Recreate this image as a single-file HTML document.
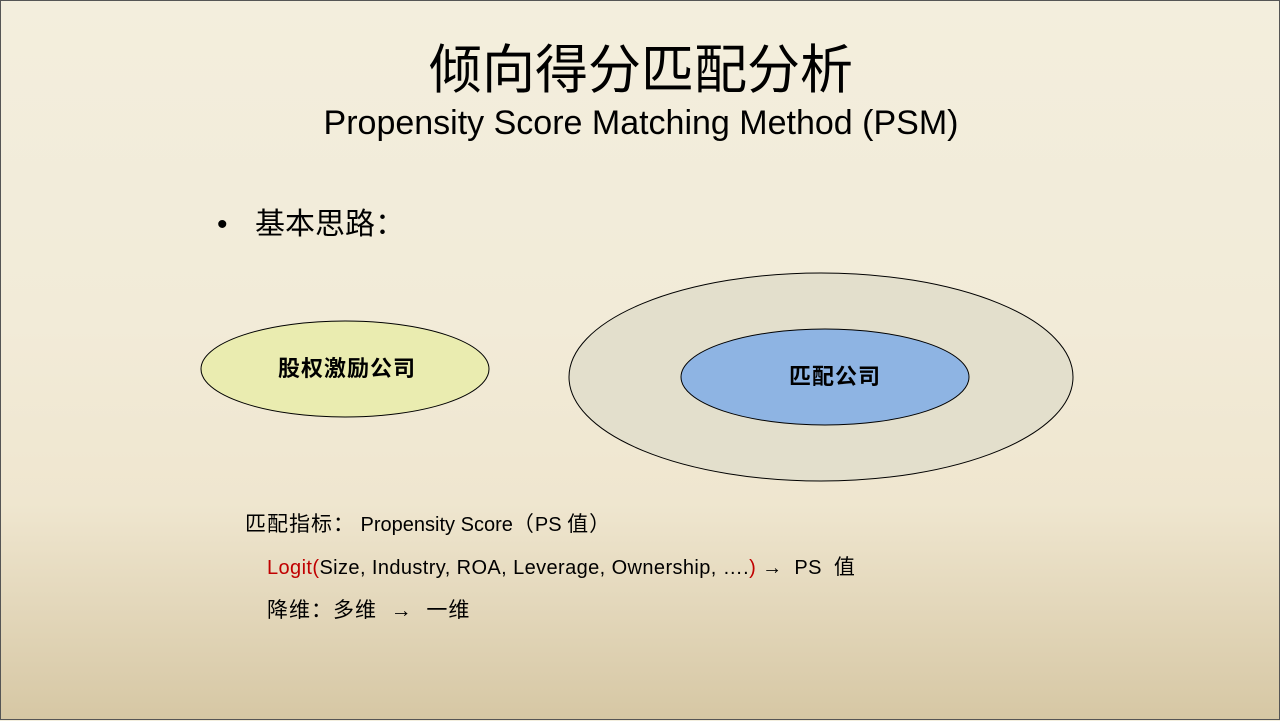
<!DOCTYPE html>
<html><head><meta charset="utf-8"><style>
html,body{margin:0;padding:0}
body{width:1280px;height:720px;position:relative;overflow:hidden;
background:linear-gradient(180deg,#f3eedd 0%,#f2ebd8 45%,#efe6cf 70%,#d6c7a4 100%);
font-family:"Liberation Sans","Noto Sans CJK SC",sans-serif;box-sizing:border-box;border:1px solid #555}
.t{position:absolute;white-space:nowrap;color:#000}
.c{font-size:21px;letter-spacing:1px}
</style></head><body>
<div class="t" style="left:0;width:1280px;text-align:center;top:38px;font-size:53px;line-height:64px">倾向得分匹配分析</div>
<div class="t" style="left:0;width:1280px;text-align:center;top:102px;font-size:34px;line-height:40px">Propensity Score Matching Method (PSM)</div>
<div class="t" style="left:216px;top:204px;font-size:30px;line-height:40px">•</div>
<div class="t" style="left:254px;top:204px;font-size:30px;line-height:40px">基本思路：</div>
<svg style="position:absolute;left:0;top:0" width="1280" height="720">
<ellipse cx="344" cy="368" rx="144" ry="48" fill="#eaecb0" stroke="#000" stroke-width="1"/>
<ellipse cx="820" cy="376" rx="252" ry="104" fill="#e3dfcc" stroke="#000" stroke-width="1"/>
<ellipse cx="824" cy="376" rx="144" ry="48" fill="#8eb4e3" stroke="#000" stroke-width="1"/>
<text x="346" y="375" text-anchor="middle" font-size="22" letter-spacing="1" font-weight="bold" font-family="Liberation Sans,Noto Sans CJK SC,sans-serif">股权激励公司</text>
<text x="834" y="383" text-anchor="middle" font-size="22" letter-spacing="1" font-weight="bold" font-family="Liberation Sans,Noto Sans CJK SC,sans-serif">匹配公司</text>
</svg>
<div class="t" style="left:244px;top:512px;font-size:20px;line-height:24px"><span class="c">匹配指标：</span> Propensity Score<span class="c">（</span>PS <span class="c">值）</span></div>
<div class="t" style="left:266px;top:555px;font-size:20px;line-height:24px;letter-spacing:0.4px"><span style="color:#c00000">Logit(</span>Size, Industry, ROA, Leverage, Ownership, ….<span style="color:#c00000">)</span> <b>→</b> &nbsp;PS &nbsp;<span class="c">值</span></div>
<div class="t" style="left:266px;top:598px;line-height:24px" ><span class="c">降维：多维 &nbsp;<b>→</b> &nbsp;一维</span></div>
</body></html>
